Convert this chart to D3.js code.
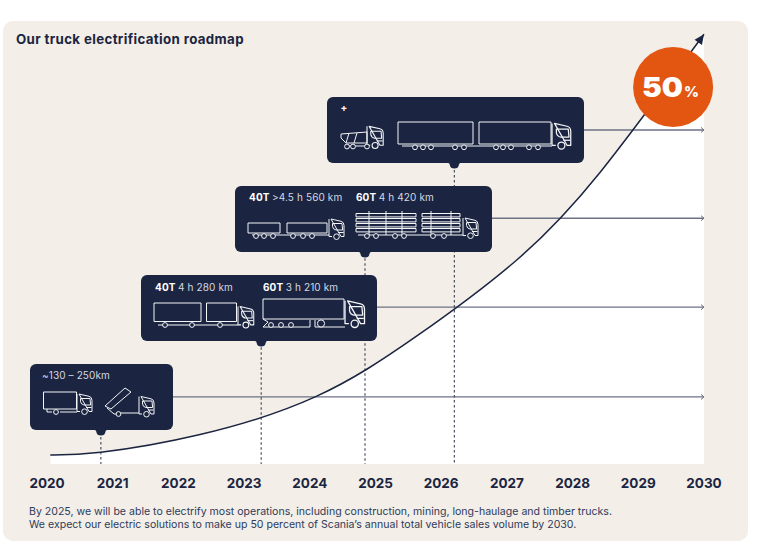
<!DOCTYPE html>
<html><head><meta charset="utf-8">
<script src="https://cdn.jsdelivr.net/npm/d3@7"></script>
<style>
html,body{margin:0;padding:0;background:#fff}
svg{display:block}
text{font-family:Inter,"Noto Sans",sans-serif}
</style></head><body><svg id="c" width="762" height="546"></svg>
<script>
const titleText = "Our truck electrification roadmap";
const yearLabels = [2020,2021,2022,2023,2024,2025,2026,2027,2028,2029,2030];
const curveYears  = [2020.05,2020.82,2022.33,2024.09,2025.63,2027.15,2028.42,2030];
const curveValues = [1.2,1.55,3.9,8.93,16.98,27.06,38.7,57];
const milestoneYears  = [2020.82,2023.26,2024.84,2026.2];
const milestoneValues = [8.9,20.8,32.6,44.3];
const footnotes = [
 "By 2025, we will be able to electrify most operations, including construction, mining, long-haulage and timber trucks.",
 "We expect our electric solutions to make up 50 percent of Scania\u2019s annual total vehicle sales volume by 2030."];

const NAVY="#1b2541", CREAM="#f3eee7", ORANGE="#e35612", LINE="#6d7186", ICON="#f4f5f7";
const svg=d3.select("#c");
const x=d3.scaleLinear().domain([2020,2030]).range([47,704]);
const y=d3.scaleLinear().domain([0,50]).range([464,87]);

svg.append("rect").attr("x",3).attr("y",21).attr("width",745).attr("height",520).attr("rx",10).attr("fill",CREAM);
svg.append("text").attr("x",16).attr("y",44).attr("font-size",13.3).attr("font-weight",700).attr("letter-spacing",0.36).attr("fill",NAVY).text(titleText);

const pts=curveYears.map((d,i)=>[d,curveValues[i]]);
const curveKind=d3.curveNatural;
svg.append("path").datum(pts).attr("fill","#fff")
  .attr("d",d3.area().x(d=>x(d[0])).y0(y(0)).y1(d=>y(d[1])).curve(curveKind));

const boxes=[[30,364,143,66],[141,275,236,66],[235,186,257,66],[327,97,257,66]];

// horizontal milestone arrows
milestoneValues.forEach((v,i)=>{
  const yy=y(v);
  svg.append("line").attr("x1",boxes[i][0]+boxes[i][2]).attr("x2",x(2030)).attr("y1",yy).attr("y2",yy).attr("stroke",LINE).attr("stroke-width",1.4);
  svg.append("path").attr("d",`M${x(2030)-3},${yy-2.5}L${x(2030)},${yy}L${x(2030)-3},${yy+2.5}`).attr("fill","none").attr("stroke",LINE).attr("stroke-width",1);
});
// dashed drop lines
milestoneYears.forEach((t,i)=>{
  svg.append("line").attr("x1",x(t)).attr("x2",x(t)).attr("y1",y(milestoneValues[i])).attr("y2",y(0))
    .attr("stroke","#3d4259").attr("stroke-width",1.1).attr("stroke-dasharray","2.5 2.5");
});
// curve
svg.append("path").datum(pts).attr("fill","none").attr("stroke",NAVY).attr("stroke-width",1.5)
  .attr("d",d3.line().x(d=>x(d[0])).y(d=>y(d[1])).curve(curveKind));
const n=pts.length-1;
const tip=[x(pts[n][0]),y(pts[n][1])];
svg.append("path").attr("d","M0,0L-10,-4.5L-10,4.5Z").attr("fill",NAVY).attr("transform",`translate(${tip[0]},${tip[1]}) rotate(-55)`);

// 50% badge
svg.append("circle").attr("cx",x(2029.53)).attr("cy",y(50)).attr("r",40).attr("fill",ORANGE);
svg.append("text").attr("x",642).attr("y",97).attr("font-size",27.5).attr("font-weight",900).attr("fill","#fff")
  .attr("textLength",41).attr("lengthAdjust","spacingAndGlyphs").text("50");
svg.append("text").attr("x",684).attr("y",97).attr("font-size",14).attr("font-weight",800).attr("fill","#fff")
  .attr("textLength",15).attr("lengthAdjust","spacingAndGlyphs").text("%");

// year axis labels
svg.append("g").selectAll("text").data(yearLabels).join("text")
  .attr("x",d=>x(d)).attr("y",488).attr("text-anchor","middle").attr("font-size",13.5).attr("font-weight",700).attr("fill",NAVY).text(d=>d);

// footnotes
footnotes.forEach((t,i)=>svg.append("text").attr("x",29).attr("y",515+i*13).attr("font-size",10.57).attr("fill","#2e3b5a").text(t));

// boxes
boxes.forEach((b,i)=>{
  svg.append("rect").attr("x",b[0]).attr("y",b[1]).attr("width",b[2]).attr("height",b[3]).attr("rx",6).attr("fill",NAVY);
  const cx=x(milestoneYears[i]), by=b[1]+b[3];
  svg.append("path").attr("d",`M${cx-6},${by}Q${cx-4.5},${by+0.5} ${cx-4.5},${by+2}Q${cx-4},${by+5.5} ${cx},${by+5.5}Q${cx+4},${by+5.5} ${cx+4.5},${by+2}Q${cx+4.5},${by+0.5} ${cx+6},${by}Z`).attr("fill",NAVY);
});

function label(xp,yp,bold,rest){
  const t=svg.append("text").attr("x",xp).attr("y",yp).attr("font-size",10).attr("letter-spacing",0.12).attr("fill","#d5d8e0");
  if(bold)t.append("tspan").attr("font-weight",700).attr("fill","#fff").text(bold+" ");
  t.append("tspan").text(rest);
}
label(42,379,null,"~130 \u2013 250km");
label(155,291,"40T","4 h 280 km");
label(263,291,"60T","3 h 210 km");
label(249,201,"40T",">4.5 h 560 km");
label(356,201,"60T","4 h 420 km");
svg.append("text").attr("x",344).attr("y",111).attr("text-anchor","middle").attr("font-size",10).attr("font-weight",700).attr("fill","#fff").text("+");

// truck pictograms
const ic=svg.append("g").attr("fill","none").attr("stroke",ICON).attr("stroke-width",1).attr("stroke-linejoin","round");
const P=d=>ic.append("path").attr("d",d);
const R=(a,b,w,h)=>ic.append("rect").attr("x",a).attr("y",b).attr("width",w).attr("height",h);
const W=(a,b,r=2.4)=>ic.append("circle").attr("cx",a).attr("cy",b).attr("r",r).attr("fill",NAVY);
const L=(a,b,c,d)=>P(`M${a},${b}L${c},${d}`);
function cab(a,g,s=1){ // a = left edge, g = ground level
  const t=ic.append("g").attr("transform",`translate(${a},${g}) scale(${s})`);
  t.append("path").attr("d","M0,-20.5 V-3 H3 M12,-3 H15 V-14 Q15,-17.5 12,-18.2 L2,-20.5 Z");
  t.append("path").attr("d","M3.5,-16 H13 L13.6,-9.5 H7 Q4,-10 3.5,-13 Z");
  t.append("path").attr("d","M9,-7 H14.5");
  t.append("circle").attr("cx",7.5).attr("cy",-2.8).attr("r",2.8).attr("fill",NAVY);
}
// box 1
R(43.5,392,33,17); P("M47,409 V412 H52 M60,412 H77"); cab(77,414.5,1); W(56,412);
P("M105,406 L125,388 L131,392 L111,409 Z"); P("M107,408 L114,414 H116 M121,413 H139"); cab(139,417,1); W(118.5,414);
// box 2
R(154,303,47,18.5); R(206.5,303,30,18.5); P("M158,325 H238"); cab(238,328,1.05); W(165,325); W(192,325); W(220,325);
R(263,299,81,20); P("M263,319 L268,322 L263,327 H310 V320"); P("M315,320 V327 H345"); cab(345,327.5,1.3); W(271,325); W(281,325); W(291,325); W(321,323.5,3.6);
// box 3
R(248,223,32,10); R(287,223,40,10); L(252,235,329,235); cab(329,239.5,1); [256,264,273,293,303,312].forEach(c=>W(c,236));
[213.5,218.5,223.5,228.5].forEach(v=>{R(356,v,60,3.4);R(422,v,38,3.4);});
[369,386,402,431,451].forEach(c=>L(c,211,c,235));
L(358,235,463,235); cab(463,238.5,1); [367,376,395,404,433,444].forEach(c=>W(c,236));
// box 4
P("M341,134 L367,132 V143 H346 L341,138 Z"); L(349,133,346,143); L(357,133,354,143); L(345,146,367,146); cab(367,148.5,1.08); [347,353,367].forEach(c=>W(c,146.5));
R(398,122,75,22); R(479,122,72,22); L(402,146,552,146); cab(552,149,1.25); [415,423,431,455,464,496,503,511,529,538].forEach(c=>W(c,147.3));
</script></body></html>
